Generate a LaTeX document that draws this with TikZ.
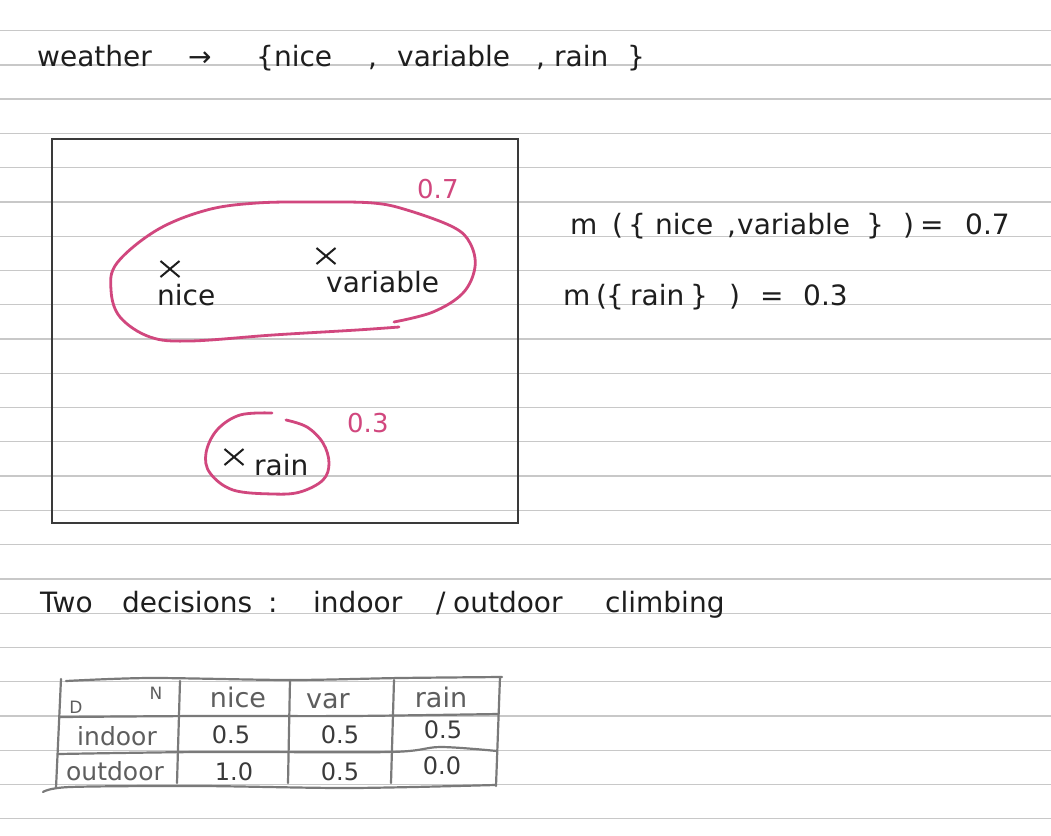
\documentclass[tikz,border=0pt]{standalone}
\usepackage{fontspec}
\setmainfont{DejaVu Sans}
\usetikzlibrary{shapes.misc}
\definecolor{ink}{HTML}{1E1E1E}
\definecolor{pinkink}{HTML}{D1477E}
\definecolor{ruleline}{HTML}{C8C8C8}
\definecolor{boxline}{HTML}{3A3A3A}
\definecolor{tabline}{HTML}{7A7A7A}
\definecolor{tabtext}{HTML}{5E5E5E}
\definecolor{tabnum}{HTML}{3A3A3A}
\begin{document}
\begin{tikzpicture}[x=1pt,y=-1pt,
  hw/.style={font=\fontsize{28}{34}\selectfont, text=ink, inner sep=0pt, anchor=base west},
  pinklab/.style={font=\fontsize{26}{30}\selectfont, text=pinkink, inner sep=0pt, anchor=base west},
  rule/.style={draw=ruleline, line width=1.3pt},
  framebox/.style={draw=boxline, line width=1.7pt},
  setline/.style={draw=pinkink, line width=2.8pt, line cap=round, line join=round},
  xmark/.style={cross out, draw=ink, line width=2pt, minimum width=17pt, minimum height=14pt, inner sep=0pt},
  tline/.style={draw=tabline, line width=2.2pt, line cap=round},
  tabhead/.style={font=\fontsize{27}{32}\selectfont, text=tabtext, inner sep=0pt, anchor=base},
  tabrow/.style={font=\fontsize{25}{30}\selectfont, text=tabtext, inner sep=0pt, anchor=base},
  tabval/.style={font=\fontsize{24}{30}\selectfont, text=tabnum, inner sep=0pt, anchor=base},
  tabcorner/.style={font=\fontsize{17}{20}\selectfont, text=tabtext, inner sep=0pt, anchor=base}]
\useasboundingbox (0,0) rectangle (1051,835);
\fill[white] (0,0) rectangle (1051,835);
% ruled paper
\foreach \k in {0,...,23}{
  \draw[rule] (0,{30.6+34.27*\k}) -- (1051,{30.6+34.27*\k});
}
% title line
\node[hw] (weather) at (37,66) {weather};
\node[hw] (arrow) at (188,66) {→};
\node[hw] (lb) at (256,66) {\{nice};
\node[hw] (c1) at (368,66) {,};
\node[hw] (var) at (397,66) {variable};
\node[hw] (c2) at (536,66) {,};
\node[hw] (rain) at (554,66) {rain};
\node[hw] (rb) at (627,66) {\}};
% frame
\draw[framebox] (52,139) rectangle (518,523);
% big set
\draw[setline] plot[smooth, tension=0.6] coordinates {(394,322) (433,312) (463,293) (475,267) (470,243) (453,227) (407,210) (373,203) (317,202) (257,203) (207,210) (157,230) (117,263) (111,290) (120,317) (150,337) (190,341) (273,335) (357,330) (399,327)};
% small set
\draw[setline] plot[smooth, tension=0.6] coordinates {(286,420) (307,427) (323,443) (329,463) (323,480) (300,492) (273,494) (233,490) (210,473) (206,453) (217,430) (240,415) (272,413)};
\node[pinklab] (p07) at (417,198) {0.7};
\node[pinklab] (p03) at (347,432) {0.3};
% elements
\node[xmark] (xnice) at (170,269) {};
\node[xmark] (xvar) at (326,256) {};
\node[xmark] (xrain) at (234,457) {};
\node[hw] (lnice) at (157,305) {nice};
\node[hw] (lvar) at (326,292) {variable};
\node[hw] (lrain) at (254,475) {rain};
% masses
\node[hw] (m1) at (570,234) {m};
\node[hw] (m1a) at (612,234) {(};
\node[hw] (m1b) at (628,234) {\{};
\node[hw] (m1c) at (655,234) {nice};
\node[hw] (m1d) at (727,234) {,};
\node[hw] (m1e) at (737,234) {variable};
\node[hw] (m1f) at (866,234) {\}};
\node[hw] (m1g) at (903,234) {)};
\node[hw] (m1h) at (920,234) {=};
\node[hw] (m1i) at (965,234) {0.7};
\node[hw] (m2) at (563,305) {m};
\node[hw] (m2a) at (596,305) {(};
\node[hw] (m2b) at (606,305) {\{};
\node[hw] (m2c) at (630,305) {rain};
\node[hw] (m2d) at (690,305) {\}};
\node[hw] (m2e) at (729,305) {)};
\node[hw] (m2f) at (760,305) {=};
\node[hw] (m2g) at (803,305) {0.3};
% decisions
\node[hw] (two) at (40,612) {Two};
\node[hw] (dec) at (122,612) {decisions};
\node[hw] (colon) at (268,612) {:};
\node[hw] (ind) at (313,612) {indoor};
\node[hw] (slash) at (436,612) {/};
\node[hw] (outd) at (453,612) {outdoor};
\node[hw] (climb) at (605,612) {climbing};
% table lines
\draw[tline] plot[smooth] coordinates {(66,681) (150,678) (290,680) (400,678) (502,677)};
\draw[tline] (61,679) -- (56,788);
\draw[tline] (500,677) -- (496,786);
\draw[tline] (180,681) -- (177,783);
\draw[tline] (290,680) -- (288,783);
\draw[tline] (394,680) -- (391,783);
\draw[tline] plot[smooth] coordinates {(60,717) (200,716) (350,716) (498,714)};
\draw[tline] plot[smooth] coordinates {(58,754) (200,752) (390,752) (440,747) (497,751)};
\draw[tline] plot[smooth] coordinates {(43,792) (70,787) (200,786) (350,788) (495,785)};
% table text
\node[tabcorner] (tD) at (76,713) {D};
\node[tabcorner] (tN) at (156,699) {N};
\node[tabhead] (hnice) at (238,707) {nice};
\node[tabhead] (hvar) at (328,708) {var};
\node[tabhead] (hrain) at (441,707) {rain};
\node[tabrow] (rin) at (117,745) {indoor};
\node[tabrow] (rout) at (115,780) {outdoor};
\node[tabval] (v11) at (231,743) {0.5};
\node[tabval] (v12) at (340,743) {0.5};
\node[tabval] (v13) at (443,738) {0.5};
\node[tabval] (v21) at (234,780) {1.0};
\node[tabval] (v22) at (340,780) {0.5};
\node[tabval] (v23) at (442,774) {0.0};
\end{tikzpicture}
\end{document}
